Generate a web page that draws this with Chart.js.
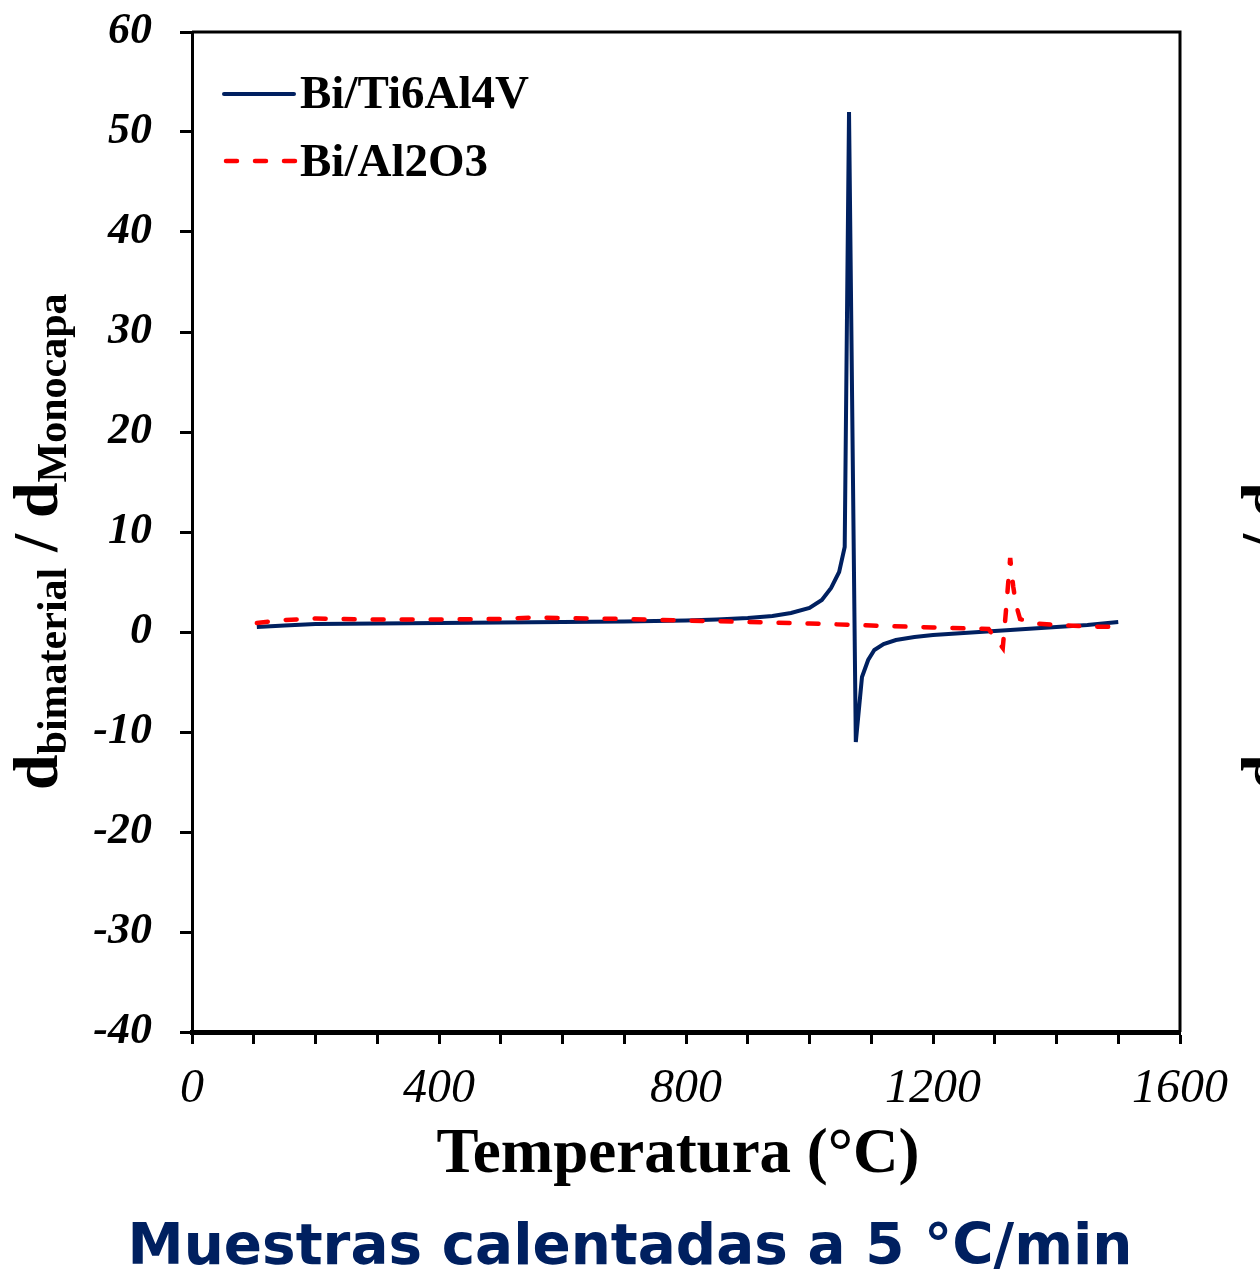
<!DOCTYPE html>
<html>
<head>
<meta charset="utf-8">
<script src="https://cdn.jsdelivr.net/npm/chart.js@4.4.1/dist/chart.umd.min.js"></script>
<style>
  html, body { margin: 0; padding: 0; background: #fff; }
  #wrap { width: 1260px; height: 1272px; position: relative; }
</style>
</head>
<body>
<div id="wrap"><canvas id="grafico"></canvas></div>
<script>
// datos
const tempTi = [105, 150, 200, 300, 400, 500, 600, 700, 800, 850, 900, 940, 970, 1000, 1020, 1035, 1048, 1057, 1064, 1075, 1085, 1095, 1105, 1120, 1140, 1170, 1200, 1250, 1300, 1350, 1400, 1450, 1500];
const valTi = [0.5, 0.65, 0.8, 0.85, 0.9, 0.95, 1.0, 1.05, 1.15, 1.25, 1.4, 1.6, 1.9, 2.4, 3.2, 4.4, 6.0, 8.5, 52, -11, -4.5, -2.8, -1.8, -1.2, -0.8, -0.5, -0.3, -0.1, 0.1, 0.3, 0.5, 0.7, 1.0];

const tempAl = [105, 150, 200, 300, 400, 500, 550, 600, 700, 800, 900, 1000, 1100, 1200, 1290, 1313, 1318, 1325, 1330, 1335, 1341, 1365, 1400, 1450, 1500];
const valAl = [0.9, 1.2, 1.35, 1.25, 1.25, 1.3, 1.45, 1.4, 1.3, 1.15, 1.0, 0.85, 0.65, 0.45, 0.3, -1.6, 2.0, 7.4, 4.5, 2.6, 1.3, 0.85, 0.7, 0.55, 0.5];

const etiquetas = ['Bi/Ti6Al4V', 'Bi/Al2O3'];
const xTicksMostrar = [0, 400, 800, 1200, 1600];

const azul = '#002060';
const rojo = '#ff0000';
const serif = '"Liberation Serif", "Times New Roman", serif';

function pares(xs, ys) {
    return xs.map((x, i) => ({ x: x, y: ys[i] }));
}

// textos, leyenda y marco
const textosPlugin = {
    id: 'textos',
    afterDraw(chart) {
        const ctx = chart.ctx;
        const area = chart.chartArea;
        ctx.save();

        // marco superior y derecho
        ctx.strokeStyle = '#000';
        ctx.lineWidth = 3;
        ctx.beginPath();
        ctx.moveTo(area.left, area.top);
        ctx.lineTo(area.right, area.top);
        ctx.lineTo(area.right, area.bottom);
        ctx.stroke();

        // leyenda
        ctx.lineCap = 'round';
        ctx.lineWidth = 4;
        ctx.strokeStyle = azul;
        ctx.beginPath();
        ctx.moveTo(224, 94);
        ctx.lineTo(294, 94);
        ctx.stroke();
        ctx.strokeStyle = rojo;
        ctx.lineWidth = 4.5;
        ctx.setLineDash([11, 18]);
        ctx.beginPath();
        ctx.moveTo(226, 161);
        ctx.lineTo(300, 161);
        ctx.stroke();
        ctx.setLineDash([]);

        ctx.fillStyle = '#000';
        ctx.font = 'bold 47px ' + serif;
        ctx.textAlign = 'left';
        ctx.textBaseline = 'alphabetic';
        ctx.fillText(etiquetas[0], 300, 108);
        ctx.fillText(etiquetas[1], 300, 176);

        // titulo eje x
        ctx.font = 'bold 63px ' + serif;
        ctx.textAlign = 'center';
        ctx.fillText('Temperatura (°C)', 678, 1172);

        // titulo eje y (con subindices), y el del grafico vecino cortado
        dibujarTituloY(ctx, 57, 790);
        dibujarTituloY(ctx, 57 + 1228, 790);

        // leyenda inferior
        let fam = '"DejaVu Sans", sans-serif';
        ctx.font = 'bold 60px ' + fam;
        const txt = 'Muestras calentadas a 5 °C/min';
        const w = ctx.measureText(txt).width;
        const size = 60 * 1005 / w;
        ctx.font = 'bold ' + size.toFixed(1) + 'px ' + fam;
        ctx.fillStyle = azul;
        ctx.textAlign = 'center';
        ctx.fillText(txt, 630, 1264);

        ctx.restore();
    }
};

function dibujarTituloY(ctx, x, y) {
    const partes = [
        ['d', false], ['bimaterial', true], [' / ', false], ['d', false], ['Monocapa', true]
    ];
    ctx.save();
    ctx.translate(x, y);
    ctx.rotate(-Math.PI / 2);
    ctx.fillStyle = '#000';
    ctx.textAlign = 'left';
    ctx.textBaseline = 'alphabetic';
    let pos = 0;
    partes.forEach(p => {
        ctx.font = p[1] ? 'bold 42px ' + serif : 'bold 64px ' + serif;
        ctx.fillText(p[0], pos, p[1] ? 9 : 0);
        pos += ctx.measureText(p[0]).width;
    });
    ctx.restore();
}

const ctx = document.getElementById('grafico').getContext('2d');
new Chart(ctx, {
    type: 'scatter',
    data: {
        datasets: [{
            label: etiquetas[0],
            data: pares(tempTi, valTi),
            showLine: true,
            borderColor: azul,
            borderWidth: 4,
            pointRadius: 0,
            tension: 0,
            order: 1
        }, {
            label: etiquetas[1],
            data: pares(tempAl, valAl),
            showLine: true,
            borderColor: rojo,
            borderWidth: 4.5,
            borderDash: [11, 18],
            borderCapStyle: 'round',
            pointRadius: 0,
            tension: 0,
            order: 0
        }]
    },
    options: {
        responsive: true,
        maintainAspectRatio: false,
        animation: false,
        layout: { padding: { top: 32, right: 80, bottom: 0, left: 0 } },
        plugins: {
            legend: { display: false },
            tooltip: { enabled: false }
        },
        scales: {
            x: {
                type: 'linear',
                min: 0,
                max: 1600,
                afterFit(scale) {
                    scale.height = 240;
                    scale.paddingLeft = 0;
                    scale.paddingRight = 0;
                },
                border: { display: true, color: '#000', width: 5 },
                grid: {
                    drawOnChartArea: false,
                    drawTicks: true,
                    tickLength: 12,
                    tickWidth: 3,
                    tickColor: '#000'
                },
                ticks: {
                    stepSize: 100,
                    autoSkip: false,
                    maxRotation: 0,
                    padding: 17,
                    color: '#000',
                    font: { family: serif, size: 48, style: 'italic' },
                    callback: v => xTicksMostrar.includes(v) ? String(v) : ''
                }
            },
            y: {
                min: -40,
                max: 60,
                afterFit(scale) {
                    scale.width = 192;
                    scale.paddingTop = 0;
                    scale.paddingBottom = 0;
                },
                border: { display: true, color: '#000', width: 3 },
                grid: {
                    drawOnChartArea: false,
                    drawTicks: true,
                    tickLength: 12,
                    tickWidth: 3,
                    tickColor: '#000'
                },
                ticks: {
                    stepSize: 10,
                    padding: 28,
                    color: '#000',
                    font: { family: serif, size: 44, style: 'italic', weight: 'bold' }
                }
            }
        }
    },
    plugins: [textosPlugin]
});
</script>
</body>
</html>
